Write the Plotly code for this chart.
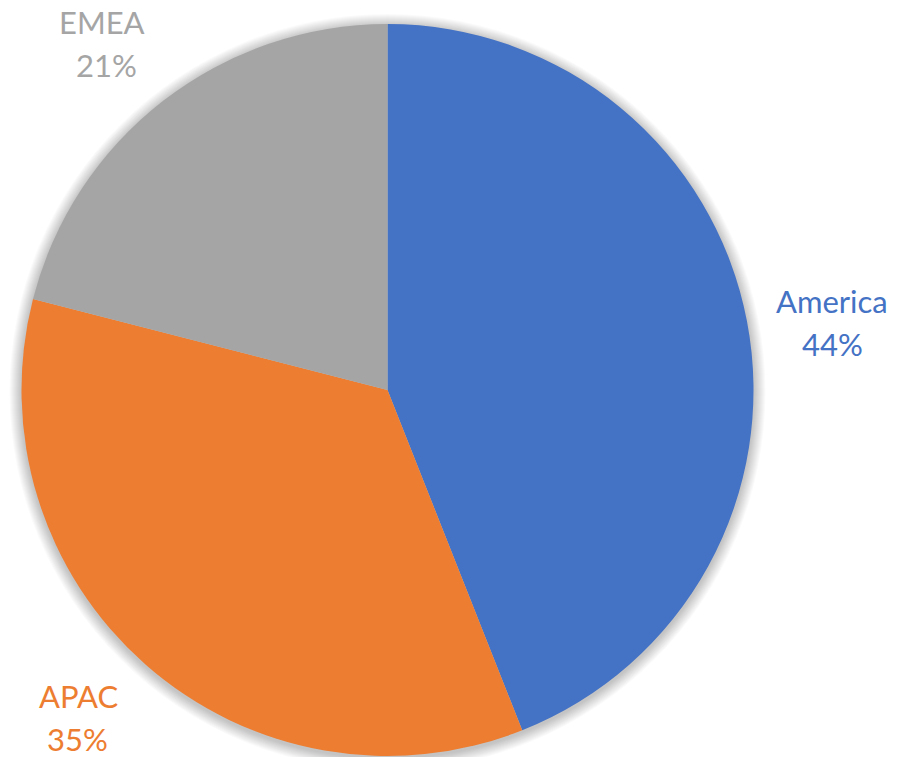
import plotly.graph_objects as go

# Regional share of total
regions = ["America", "APAC", "EMEA"]
shares = [44, 35, 21]
colors = ["#4472C4", "#ED7D31", "#A5A5A5"]

W, H = 919, 757
CX, CY, R = 387.5, 390.0, 366.0  # pie centre and radius in pixels

# label anchor points (pixels): name line and percent line
label_pos = {
    "America": ((832, 301), (832, 344)),
    "APAC": ((78, 696), (77, 739)),
    "EMEA": ((102, 22), (106, 65)),
}

FONT = "Lato, 'Open Sans', sans-serif"

fig = go.Figure(
    go.Pie(
        labels=regions,
        values=shares,
        sort=False,
        direction="clockwise",
        rotation=0,
        textinfo="none",
        marker=dict(colors=colors, line=dict(width=0)),
        domain=dict(
            x=[(CX - R) / W, (CX + R) / W],
            y=[(H - CY - R) / H, (H - CY + R) / H],
        ),
        showlegend=False,
    )
)

# soft shadow around the pie
shapes = []
for i in range(1, 13):
    rr = R + i
    oy = 2.0
    shapes.append(
        dict(
            type="circle",
            xref="paper",
            yref="paper",
            x0=(CX - rr) / W,
            x1=(CX + rr) / W,
            y0=(H - CY - oy - rr) / H,
            y1=(H - CY - oy + rr) / H,
            fillcolor="rgba(0,0,0,0.018)",
            line=dict(width=0),
            layer="below",
        )
    )

total = sum(shares)
annotations = []
for name, val, col in zip(regions, shares, colors):
    (nx, ny), (px, py) = label_pos[name]
    pct = f"{round(100 * val / total)}%"
    for text, (x, y) in ((name, (nx, ny)), (pct, (px, py))):
        annotations.append(
            dict(
                text=text,
                x=x / W,
                y=1 - y / H,
                xref="paper",
                yref="paper",
                xanchor="center",
                yanchor="middle",
                showarrow=False,
                font=dict(family=FONT, size=31, color=col),
            )
        )

fig.update_layout(
    width=W,
    height=H,
    margin=dict(l=0, r=0, t=0, b=0),
    paper_bgcolor="white",
    plot_bgcolor="white",
    shapes=shapes,
    annotations=annotations,
)

fig.write_html("out.html")
